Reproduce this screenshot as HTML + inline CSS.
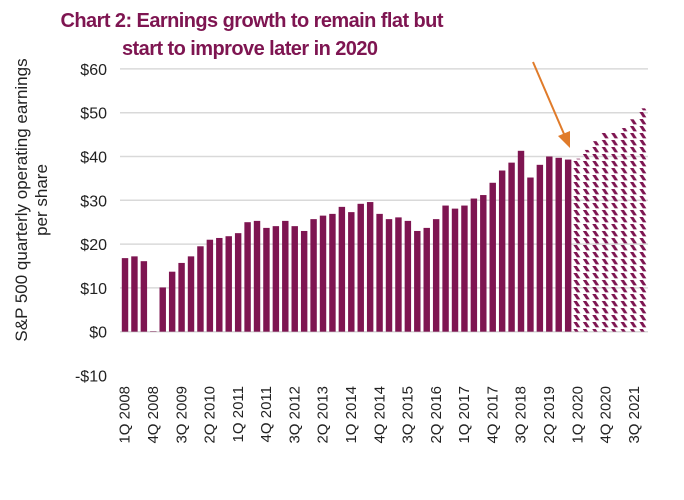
<!DOCTYPE html>
<html><head><meta charset="utf-8"><style>
body{margin:0;background:#fff;width:684px;height:500px;overflow:hidden}
svg{display:block;font-family:"Liberation Sans",Arial,sans-serif}
</style></head><body>
<svg id="chart" width="684" height="500">
<defs>
<pattern id="hatch" patternUnits="userSpaceOnUse" x="120" y="0" width="9.4286" height="7">
<polygon points="0.8,0 4.3,0 7.8,5.4 4.3,5.4" fill="#7E1551"/>
</pattern>
</defs>
<text x="252" y="27" text-anchor="middle" font-size="20" font-weight="bold" fill="#7E1551" textLength="383">Chart 2: Earnings growth to remain flat but</text>
<text x="250" y="55" text-anchor="middle" font-size="20" font-weight="bold" fill="#7E1551" textLength="256">start to improve later in 2020</text>
<g id="grid"></g><g id="bars"></g><g id="xlabels"></g><g id="ylabels"></g>
<text transform="translate(27,200) rotate(-90)" text-anchor="middle" font-size="17" fill="#222">S&amp;P 500 quarterly operating earnings</text>
<text transform="translate(47,200) rotate(-90)" text-anchor="middle" font-size="17" fill="#222">per share</text>
<g>
<line x1="533" y1="62" x2="564" y2="134" stroke="#E07B2A" stroke-width="2"/>
<polygon points="570,148 558,136 570,131" fill="#E07B2A"/>
</g>
</svg>
<script>
const actual=[16.8,17.2,16.1,0.1,10.1,13.7,15.7,17.2,19.5,21.0,21.4,21.8,22.5,25.0,25.3,23.7,24.1,25.3,24.1,23.0,25.7,26.5,26.9,28.5,27.3,29.2,29.6,26.9,25.7,26.1,25.3,23.0,23.7,25.7,28.8,28.1,28.8,30.4,31.2,34.0,36.8,38.6,41.3,35.2,38.1,40.0,39.7,39.3];
const forecast=[39.5,41.5,43.5,45.5,45.5,46.5,48.5,51.0];
const yTicks=[-10,0,10,20,30,40,50,60];
const NS="http://www.w3.org/2000/svg";
const x0=120,x1=648,n=actual.length+forecast.length,step=(x1-x0)/n;
const y=v=>331.7-v*4.38;
function mk(t,a,p){const e=document.createElementNS(NS,t);for(const k in a)e.setAttribute(k,a[k]);document.getElementById(p).appendChild(e);return e;}
yTicks.forEach(v=>{
  if(v>0){const g=mk('line',{x1:x0,x2:x1,y1:y(v),y2:y(v),stroke:'#d9d9d9','stroke-width':1.5},'grid');
  
  }
  const t=mk('text',{x:107,y:y(v)+6,'text-anchor':'end','font-size':16,fill:'#222'},'ylabels');
  t.textContent=(v<0?'-$':'$')+Math.abs(v);
  
  
});
const ax=mk('line',{x1:x0,x2:x1,y1:y(0),y2:y(0),stroke:'#d9d9d9','stroke-width':1.5},'grid');


actual.forEach((v,i)=>{
  const r=mk('rect',{x:x0+i*step+1.8,width:step-3,y:y(v),height:y(0)-y(v),fill:'#7E1551'},'bars');
  
  
});
forecast.forEach((v,i)=>{
  const j=actual.length+i;
  const r=mk('rect',{x:x0+j*step,width:step+0.3,y:y(v),height:y(0)-y(v),fill:'url(#hatch)'},'bars');
  
  
});
for(let i=0;i<n;i+=3){
  const yr=2008+Math.floor(i/4),q=i%4+1;
  const cx=x0+i*step+step/2+5;
  const t=mk('text',{transform:`translate(${cx},386) rotate(-90)`,'text-anchor':'end','font-size':15,fill:'#222'},'xlabels');
  t.textContent=q+'Q '+yr;
  
  
}
</script>
</body></html>
